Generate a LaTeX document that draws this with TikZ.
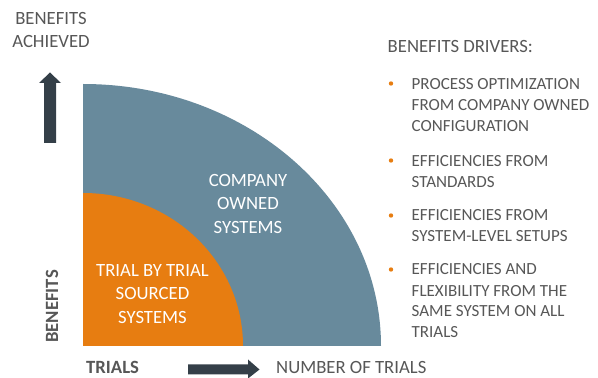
\documentclass[tikz,border=0pt]{standalone}
\usepackage{fontspec}
\setmainfont{Carlito}
\definecolor{txtgray}{HTML}{575757}
\definecolor{bluegray}{HTML}{688A9C}
\definecolor{orng}{HTML}{E77D11}
\definecolor{arrowdark}{HTML}{343F48}
\tikzset{
  lbl/.style={inner sep=0pt, text=txtgray, font=\fontsize{18.7}{23}\selectfont},
  lblbold/.style={inner sep=0pt, text=txtgray, font=\fontsize{18.7}{23}\selectfont\bfseries},
  inlbl/.style={inner sep=0pt, text=white, font=\fontsize{18.7}{23}\selectfont, anchor=base},
  bul/.style={inner sep=0pt, text=txtgray, font=\fontsize{17}{21}\selectfont, anchor=base west},
  dotb/.style={fill=orng, draw=none},
  bigarrow/.style={fill=arrowdark, draw=none}
}
\begin{document}
\begin{tikzpicture}[x=1pt,y=1pt]
\useasboundingbox (0,0) rectangle (598,378);
% quarter shapes
\fill[bluegray] (83,32) -- (381,32) arc[start angle=0,end angle=90,x radius=298pt,y radius=262pt] -- cycle;
\fill[orng] (83,32) -- (243,32) arc[start angle=0,end angle=90,x radius=160pt,y radius=153pt] -- cycle;
% arrows
\fill[bigarrow] (44,235) -- (56,235) -- (56,295) -- (61,295) -- (50,305.5) -- (39,295) -- (44,295) -- cycle;
\fill[bigarrow] (188,3.5) -- (248,3.5) -- (248,-0.5) -- (259.5,8.5) -- (248,18.5) -- (248,13.5) -- (188,13.5) -- cycle;
% axis texts
\node[lbl, anchor=base] (ba1) at (51,353) {BENEFITS};
\node[lbl, anchor=base] (ba2) at (51,330) {ACHIEVED};
\node[lblbold, anchor=base, rotate=90] (ben) at (58,71.5) {BENEFITS};
\node[lblbold, anchor=base west] (tri) at (86,4) {TRIALS};
\node[lbl, anchor=base west] (num) at (276,4.7) {NUMBER OF TRIALS};
% inner texts
\node[inlbl] (c1) at (248,191) {COMPANY};
\node[inlbl] (c2) at (248,168) {OWNED};
\node[inlbl] (c3) at (248,144) {SYSTEMS};
\node[inlbl] (t1) at (152.5,101) {TRIAL BY TRIAL};
\node[inlbl] (t2) at (152.5,78) {SOURCED};
\node[inlbl] (t3) at (152.5,54) {SYSTEMS};
% drivers
\node[lbl, anchor=base west] (drv) at (387.5,325) {BENEFITS DRIVERS:};
\node[bul] (a1) at (411.5,288.5) {PROCESS OPTIMIZATION};
\node[bul] (a2) at (411.5,267.5) {FROM COMPANY OWNED};
\node[bul] (a3) at (411.5,246.5) {CONFIGURATION};
\node[bul] (b1) at (411.5,211.5) {EFFICIENCIES FROM};
\node[bul] (b2) at (411.5,190.5) {STANDARDS};
\node[bul] (c1b) at (411.5,157) {EFFICIENCIES FROM};
\node[bul] (c2b) at (411.5,136.3) {SYSTEM-LEVEL SETUPS};
\node[bul] (d1) at (411.5,103) {EFFICIENCIES AND};
\node[bul] (d2) at (411.5,81.5) {FLEXIBILITY FROM THE};
\node[bul] (d3) at (411.5,61) {SAME SYSTEM ON ALL};
\node[bul] (d4) at (411.5,40.5) {TRIALS};
% bullet dots
\fill[dotb] (391,294.5) circle[radius=2.2pt];
\fill[dotb] (391,217.5) circle[radius=2.2pt];
\fill[dotb] (391,162.5) circle[radius=2.2pt];
\fill[dotb] (391,108.5) circle[radius=2.2pt];
\end{tikzpicture}
\end{document}
